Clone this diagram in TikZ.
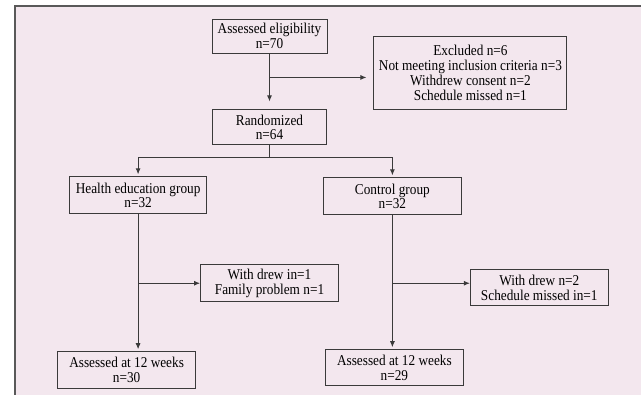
\documentclass[tikz,border=0pt]{standalone}
\usepackage{fontspec}
\setmainfont{Liberation Serif}[FakeStretch=0.885]
\usetikzlibrary{arrows.meta,positioning}
\definecolor{panel}{HTML}{F3E7EE}
\definecolor{ink}{HTML}{3A3A3A}

\begin{document}
\begin{tikzpicture}[->,>={Latex[length=6pt,width=5pt]},line width=0.9pt,draw=ink,font=\fontsize{15}{14.8}\selectfont]
  \tikzstyle{box}=[draw=ink,fill=none,text=black,align=center,inner sep=0pt,minimum width=138pt,minimum height=37pt]

  % panel
  \useasboundingbox (0pt,0pt) rectangle (641pt,395pt);
  \fill[panel] (15pt,0pt) rectangle (641pt,389pt);
  \draw[-,black!65,line width=1.3pt] (15pt,0pt) -- (15pt,389pt) -- (641pt,389pt);

  \node[box,minimum width=115pt,minimum height=34pt] (elig) at (269.5pt,359pt) {Assessed eligibility\\n=70};
  \node[box,minimum width=193pt,minimum height=73pt] (excl) [right=46pt of elig.east,anchor=north west] {Excluded n=6\\Not meeting inclusion criteria n=3\\Withdrew consent n=2\\Schedule missed n=1};
  \node[box,minimum width=114pt,minimum height=35pt] (rand) [below=56pt of elig] {Randomized\\n=64};
  \node[box,minimum width=137pt] (health) [below left=31pt and 5pt of rand] {Health education group\\n=32};
  \node[box] (control) [below right=32pt and -4pt of rand] {Control group\\n=32};
  \node[box] (wd1) [below right=50pt and -7pt of health] {With drew in=1\\Family problem n=1};
  \node[box,minimum height=36pt] (wd2) [below right=54pt and 8pt of control] {With drew n=2\\Schedule missed in=1};
  \node[box] (as1) [below right=137pt and -12pt of health.south west] {Assessed at 12 weeks\\n=30};
  \node[box,minimum height=36pt] (as2) [below right=134pt and 2pt of control.south west] {Assessed at 12 weeks\\n=29};

  \coordinate[below=24pt of elig.south] (eb);
  \coordinate[below=12pt of rand.south] (rs);
  \coordinate[below=69pt of health.south] (hb);
  \coordinate[below=68pt of control.south] (cb);

  \draw[shorten >=8pt] (elig) -- (rand);
  \draw[shorten >=7pt] (eb) -- (eb -| excl.west);
  \draw[-] (rand) -- (rs);
  \draw[shorten >=2pt] (rs) -| (health);
  \draw[shorten >=2pt] (rs) -| (control);
  \draw[shorten >=2pt] (health) -- (health |- as1.north);
  \draw (hb) -- (hb -| wd1.west);
  \draw[shorten >=2pt] (control) -- (control |- as2.north);
  \draw (cb) -- (cb -| wd2.west);
\end{tikzpicture}
\end{document}
